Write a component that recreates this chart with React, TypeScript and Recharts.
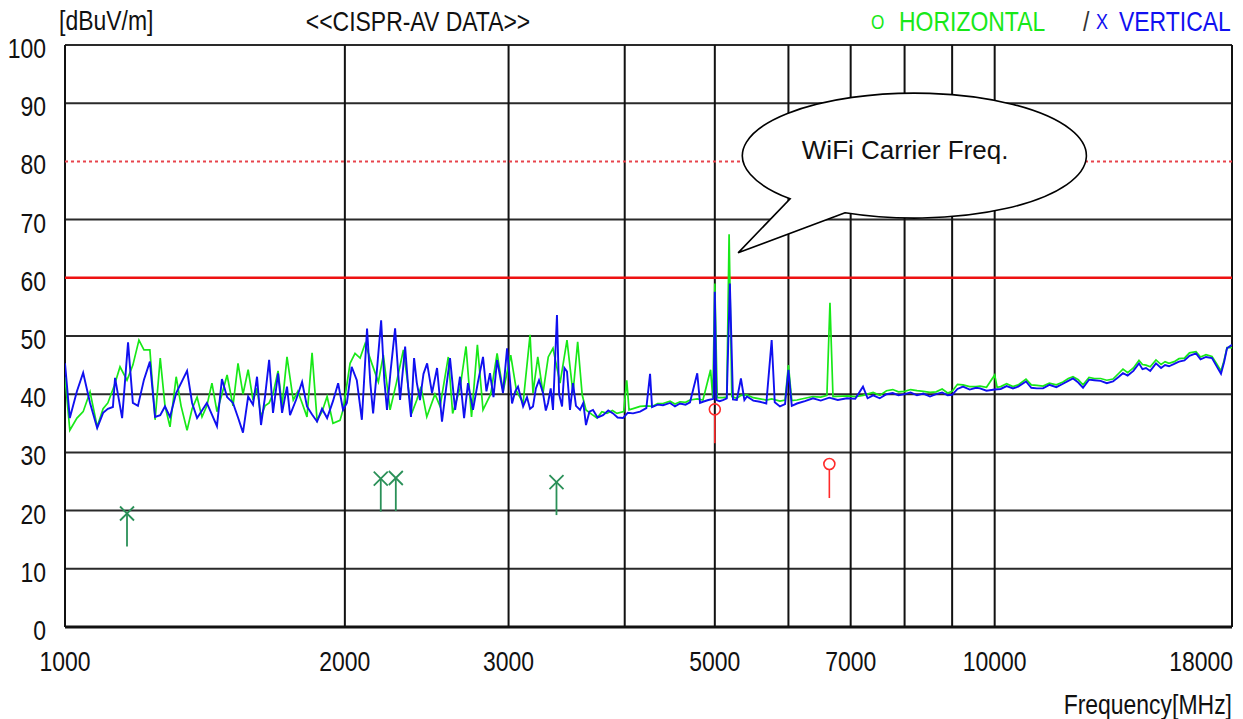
import { Line, LineChart, ReferenceDot, ReferenceLine, XAxis, YAxis } from 'recharts'

// CISPR average scan, 1–18 GHz, horizontal and vertical antenna polarisation.
// Each trace is a list of [frequency MHz, level dBuV/m].
const horizontalTrace: [number, number][] = [
  [1000, 43.0], [1012, 33.8], [1030, 35.9], [1046, 37.0], [1064, 40.4], [1083, 34.4], [1099, 37.5], [1112, 38.5],
  [1130, 41.5], [1146, 44.7], [1166, 42.4], [1183, 45.0], [1201, 49.3], [1216, 47.6], [1234, 47.6], [1250, 35.6],
  [1266, 46.2], [1281, 38.0], [1297, 34.4], [1317, 43.0], [1333, 38.0], [1353, 33.8], [1370, 37.5], [1387, 39.5],
  [1404, 36.1], [1421, 38.0], [1439, 41.9], [1457, 37.0], [1475, 40.0], [1494, 43.3], [1516, 38.0], [1535, 45.3],
  [1554, 40.0], [1574, 44.2], [1593, 39.0], [1609, 41.0], [1625, 36.1], [1641, 38.0], [1658, 38.5], [1674, 40.0],
  [1695, 44.0], [1712, 38.0], [1733, 46.4], [1760, 39.0], [1780, 40.5], [1799, 38.5], [1821, 36.1], [1844, 47.1],
  [1867, 35.5], [1890, 37.0], [1914, 39.6], [1942, 35.0], [1976, 35.5], [1991, 37.3], [2026, 45.3], [2051, 47.0],
  [2077, 46.2], [2103, 48.7], [2138, 45.3], [2173, 42.1], [2200, 46.7], [2237, 37.3], [2272, 41.9], [2312, 47.6],
  [2360, 36.7], [2390, 39.0], [2415, 41.3], [2450, 36.1], [2500, 40.0], [2532, 37.9], [2584, 46.4], [2612, 36.7],
  [2660, 41.0], [2700, 48.2], [2737, 36.1], [2777, 48.5], [2816, 37.3], [2870, 40.0], [2916, 47.0], [2960, 40.5],
  [3016, 46.7], [3060, 40.5], [3110, 38.5], [3164, 50.2], [3187, 40.2], [3225, 46.4], [3267, 40.2], [3310, 46.4],
  [3349, 47.9], [3408, 41.9], [3467, 49.3], [3519, 40.2], [3560, 49.0], [3600, 39.9], [3634, 37.3], [3690, 36.5],
  [3735, 35.9], [3780, 37.0], [3828, 36.7], [3880, 37.2], [3924, 36.7], [3990, 37.0], [4020, 42.4], [4043, 37.3],
  [4100, 37.6], [4155, 37.9], [4220, 38.0], [4280, 37.9], [4340, 38.4], [4398, 38.4], [4475, 38.8], [4530, 38.3],
  [4587, 38.7], [4650, 38.6], [4702, 39.0], [4787, 39.2], [4855, 39.0], [4948, 44.2], [4975, 39.3], [5000, 59.0],
  [5030, 39.4], [5101, 39.4], [5150, 39.5], [5180, 67.5], [5215, 39.6], [5280, 39.3], [5334, 39.8], [5414, 39.9],
  [5500, 39.4], [5591, 39.2], [5680, 39.0], [5756, 39.2], [5875, 38.8], [5950, 39.0], [6000, 45.0], [6050, 38.9],
  [6128, 39.0], [6250, 39.3], [6376, 39.6], [6500, 39.5], [6600, 39.8], [6650, 55.7], [6700, 39.6], [6936, 39.7],
  [7080, 39.6], [7217, 39.8], [7400, 40.3], [7523, 39.8], [7650, 40.6], [7769, 40.8], [7880, 40.4], [8000, 40.5],
  [8120, 40.8], [8250, 40.6], [8380, 40.5], [8520, 40.3], [8650, 40.4], [8780, 40.9], [8900, 40.2], [9000, 40.5],
  [9120, 41.7], [9245, 41.6], [9400, 41.3], [9550, 41.3], [9643, 41.4], [9800, 41.2], [10000, 43.3], [10060, 41.2],
  [10150, 41.3], [10300, 41.8], [10463, 41.3], [10600, 41.6], [10806, 42.6], [10950, 41.6], [11100, 41.5], [11272, 41.4],
  [11450, 41.9], [11650, 41.6], [11844, 42.1], [12000, 42.7], [12141, 43.0], [12300, 42.5], [12446, 41.6], [12632, 42.9],
  [12800, 42.7], [13000, 42.7], [13200, 42.4], [13405, 42.6], [13600, 43.6], [13740, 44.3], [13900, 43.7], [14100, 44.5],
  [14296, 45.8], [14420, 45.1], [14546, 45.0], [14700, 44.7], [14911, 45.9], [15100, 45.1], [15250, 45.6], [15399, 45.3],
  [15600, 45.6], [15785, 46.1], [16000, 46.2], [16200, 47.1], [16465, 47.3], [16650, 46.4], [16878, 46.8], [17130, 46.5],
  [17300, 45.4], [17516, 44.0], [17650, 45.8], [17779, 48.0], [18000, 48.0],
]

const verticalTrace: [number, number][] = [
  [1000, 45.3], [1012, 35.9], [1030, 40.5], [1046, 43.7], [1064, 38.5], [1083, 34.2], [1099, 36.8], [1112, 37.5],
  [1126, 37.8], [1132, 42.8], [1152, 35.9], [1169, 48.9], [1183, 38.5], [1198, 38.0], [1216, 42.5], [1234, 45.6],
  [1250, 36.1], [1266, 36.4], [1281, 37.9], [1297, 36.1], [1317, 40.2], [1353, 44.0], [1370, 38.5], [1387, 35.9],
  [1404, 37.2], [1421, 38.5], [1439, 36.5], [1457, 34.5], [1475, 42.6], [1494, 39.5], [1516, 38.5], [1535, 36.0],
  [1554, 33.4], [1574, 39.6], [1593, 38.2], [1609, 43.0], [1625, 34.7], [1641, 39.5], [1658, 45.9], [1674, 36.8],
  [1695, 43.6], [1712, 36.8], [1733, 41.3], [1746, 36.4], [1772, 39.0], [1799, 42.1], [1821, 37.9], [1844, 36.5],
  [1867, 35.3], [1890, 37.5], [1914, 35.9], [1942, 38.8], [1967, 41.9], [1991, 37.3], [2010, 38.5], [2034, 44.7],
  [2060, 42.4], [2086, 35.6], [2113, 51.3], [2130, 42.0], [2145, 36.7], [2165, 44.0], [2188, 52.7], [2205, 42.5],
  [2220, 37.3], [2240, 44.0], [2265, 51.3], [2293, 39.0], [2322, 48.2], [2340, 41.0], [2356, 36.1], [2374, 46.2],
  [2390, 42.0], [2409, 39.0], [2430, 43.5], [2452, 45.3], [2482, 40.2], [2513, 44.5], [2544, 35.3], [2570, 41.0],
  [2595, 46.2], [2628, 37.3], [2660, 43.0], [2687, 35.9], [2713, 41.9], [2747, 37.3], [2780, 42.0], [2816, 46.4],
  [2840, 40.5], [2865, 43.6], [2890, 39.5], [2916, 45.9], [2959, 40.2], [2989, 47.9], [3026, 38.4], [3050, 40.5],
  [3071, 41.3], [3110, 37.9], [3140, 39.5], [3164, 37.5], [3187, 37.9], [3210, 41.0], [3235, 42.4], [3267, 40.2],
  [3290, 37.2], [3308, 38.5], [3330, 41.0], [3349, 37.3], [3382, 53.6], [3400, 40.0], [3425, 37.9], [3445, 44.5],
  [3467, 43.9], [3493, 37.3], [3519, 41.9], [3545, 38.0], [3581, 37.3], [3610, 38.5], [3634, 34.7], [3665, 37.0],
  [3698, 37.3], [3740, 36.0], [3791, 36.4], [3840, 37.2], [3886, 36.7], [3930, 36.0], [3983, 35.9], [4030, 36.8],
  [4083, 36.7], [4155, 37.0], [4220, 37.6], [4259, 43.5], [4280, 37.8], [4340, 38.2], [4398, 38.1], [4475, 38.5],
  [4530, 37.9], [4587, 38.4], [4650, 38.2], [4702, 38.6], [4787, 43.6], [4820, 38.5], [4855, 38.7], [4920, 39.0],
  [4985, 39.2], [5000, 57.6], [5020, 39.0], [5060, 38.8], [5101, 39.0], [5150, 39.3], [5190, 59.0], [5230, 39.1],
  [5280, 39.0], [5334, 42.7], [5380, 39.0], [5414, 39.6], [5500, 38.9], [5591, 38.7], [5680, 38.4], [5756, 49.3],
  [5800, 38.6], [5875, 37.9], [5950, 38.3], [6000, 44.2], [6050, 38.0], [6128, 38.4], [6250, 38.8], [6376, 39.3],
  [6500, 38.9], [6639, 39.4], [6780, 39.0], [6936, 39.3], [7080, 39.2], [7217, 41.3], [7300, 39.3], [7400, 39.8],
  [7523, 39.3], [7650, 40.0], [7769, 40.2], [7880, 39.8], [8000, 40.0], [8120, 40.3], [8250, 39.8], [8380, 40.1],
  [8520, 39.6], [8650, 40.0], [8780, 40.3], [8900, 39.8], [9000, 39.9], [9120, 40.9], [9245, 41.3], [9400, 40.8],
  [9550, 41.1], [9643, 41.0], [9800, 40.6], [10000, 40.8], [10150, 40.9], [10300, 41.4], [10463, 41.0], [10600, 41.3],
  [10806, 42.2], [10950, 41.1], [11100, 41.0], [11272, 41.0], [11450, 41.6], [11650, 41.2], [11844, 41.8], [12000, 42.3],
  [12141, 42.7], [12300, 42.0], [12446, 41.1], [12632, 42.5], [12800, 42.4], [13000, 42.3], [13200, 41.9], [13405, 42.2],
  [13600, 43.0], [13740, 43.6], [13900, 43.2], [14100, 44.0], [14296, 45.3], [14420, 44.3], [14546, 44.5], [14700, 44.0],
  [14911, 45.3], [15100, 44.5], [15250, 45.0], [15399, 44.8], [15600, 45.2], [15785, 45.6], [16000, 45.8], [16200, 46.6],
  [16465, 47.0], [16650, 46.0], [16878, 46.4], [17130, 46.2], [17300, 45.0], [17516, 43.5], [17650, 45.5], [17779, 47.9],
  [18000, 48.5],
]

// final-measurement markers: o = horizontal, x = vertical
const horizontalMarks: [number, number][] = [[5000, 37.4], [6640, 28.0]]
const verticalMarks: [number, number][] = [[1166, 19.5], [2186, 25.5], [2269, 25.6], [3378, 24.9]]

const xTicks = [1000, 2000, 3000, 5000, 7000, 10000, 18000]
const gridFreqs = [1000, 2000, 3000, 4000, 5000, 6000, 7000, 8000, 9000, 10000, 18000]
const yTicks = [0, 10, 20, 30, 40, 50, 60, 70, 80, 90, 100]
const gridLevels = [10, 20, 30, 40, 50, 70, 90, 100]
const limitLevel = 60
const dottedLevel = 80
const calloutAt = { freq: 8050, level: 81.3, text: 'WiFi Carrier Freq.' }

const SANS = "'Liberation Sans', Arial, sans-serif"
const GREEN = '#18e818'
const BLUE = '#1010f0'
const INK = '#111'

// no narrow face installed: squeeze Liberation Sans to look like Arial Narrow
function NText({ x, y, anchor = 'start', size = 28, fill = INK, children }: any) {
  return (
    <text
      transform={`translate(${x} ${y}) scale(0.82 1)`}
      textAnchor={anchor}
      fontFamily={SANS}
      fontSize={size}
      fill={fill}
    >
      {children}
    </text>
  )
}

const toRows = (pts: [number, number][]) => pts.map(([freq, level]) => ({ freq, level }))

function XTick({ x, payload }: any) {
  const last = payload.value === 18000
  return (
    <NText x={last ? x + 1 : x} y={671} anchor={last ? 'end' : 'middle'}>
      {payload.value}
    </NText>
  )
}

function YTick({ y, payload }: any) {
  return (
    <NText x={46} y={y + 13} anchor="end">
      {payload.value}
    </NText>
  )
}

function CrossMark({ cx, cy }: any) {
  const s = 7
  return (
    <g stroke="#2a9058" strokeWidth={1.8} fill="none">
      <line x1={cx - s} y1={cy - s} x2={cx + s} y2={cy + s} />
      <line x1={cx + s} y1={cy - s} x2={cx - s} y2={cy + s} />
      <line x1={cx} y1={cy} x2={cx} y2={cy + 33} />
    </g>
  )
}

function CircleMark({ cx, cy }: any) {
  return (
    <g stroke="#ff2a2a" strokeWidth={1.6} fill="none">
      <circle cx={cx} cy={cy} r={5.5} />
      <line x1={cx} y1={cy + 5.5} x2={cx} y2={cy + 34} />
    </g>
  )
}

function Callout({ cx, cy }: any) {
  const d = `M ${cx - 62} ${cy + 59} L ${cx - 169} ${cy + 99} L ${cx - 117} ${cy + 45} A 172 62.5 0 1 1 ${cx - 62} ${cy + 59} Z`
  return (
    <g>
      <path d={d} fill="#fff" stroke="#000" strokeWidth={1.6} />
      <text x={cx - 2} y={cy + 5} textAnchor="middle" fontFamily={SANS} fontSize={26} fill={INK}>
        {calloutAt.text}
      </text>
    </g>
  )
}

export default function App() {
  return (
    <div style={{ position: 'absolute', left: 0, top: 0, width: 1243, height: 719, background: '#fff' }}>
      <LineChart width={1243} height={719} margin={{ top: 45, right: 11, bottom: 0, left: 0 }}>
        <XAxis
          type="number"
          dataKey="freq"
          scale="log"
          domain={[1000, 18000]}
          ticks={xTicks}
          interval={0}
          allowDataOverflow
          height={92}
          axisLine={false}
          tickLine={false}
          tick={<XTick />}
        />
        <YAxis
          type="number"
          domain={[0, 100]}
          ticks={yTicks}
          interval={0}
          width={65}
          axisLine={false}
          tickLine={false}
          tick={<YTick />}
        />
        {gridLevels.map((v) => (
          <ReferenceLine key={`y${v}`} y={v} stroke="#2a2a2a" strokeWidth={2} />
        ))}
        {gridFreqs.map((f) => (
          <ReferenceLine key={`x${f}`} x={f} stroke={INK} strokeWidth={2} />
        ))}
        <ReferenceLine y={0} stroke={INK} strokeWidth={3} />
        <ReferenceLine y={dottedLevel} stroke="#e8444c" strokeWidth={2} strokeDasharray="3 3" />
        <ReferenceLine y={limitLevel} stroke="#ee1111" strokeWidth={2.5} />
        <Line data={toRows(horizontalTrace)} dataKey="level" stroke={GREEN} strokeWidth={1.7} dot={false} isAnimationActive={false} />
        <Line data={toRows(verticalTrace)} dataKey="level" stroke={BLUE} strokeWidth={1.9} dot={false} isAnimationActive={false} />
        {verticalMarks.map(([f, v]) => (
          <ReferenceDot key={`v${f}`} x={f} y={v} shape={<CrossMark />} />
        ))}
        {horizontalMarks.map(([f, v]) => (
          <ReferenceDot key={`h${f}`} x={f} y={v} shape={<CircleMark />} />
        ))}
        <ReferenceDot x={calloutAt.freq} y={calloutAt.level} shape={<Callout />} />
      </LineChart>
      <svg width={1243} height={719} style={{ position: 'absolute', left: 0, top: 0, pointerEvents: 'none' }}>
        <NText x={59} y={30}>[dBuV/m]</NText>
        <NText x={418} y={31} anchor="middle">{'<<CISPR-AV DATA>>'}</NText>
        <NText x={871} y={29} size={21} fill={GREEN}>O</NText>
        <NText x={899} y={31} fill={GREEN}>HORIZONTAL</NText>
        <NText x={1083} y={31} fill="#333">/</NText>
        <NText x={1096} y={29} size={22} fill={BLUE}>X</NText>
        <NText x={1119} y={31} fill={BLUE}>VERTICAL</NText>
        <NText x={1232} y={714} anchor="end">Frequency[MHz]</NText>
      </svg>
    </div>
  )
}
